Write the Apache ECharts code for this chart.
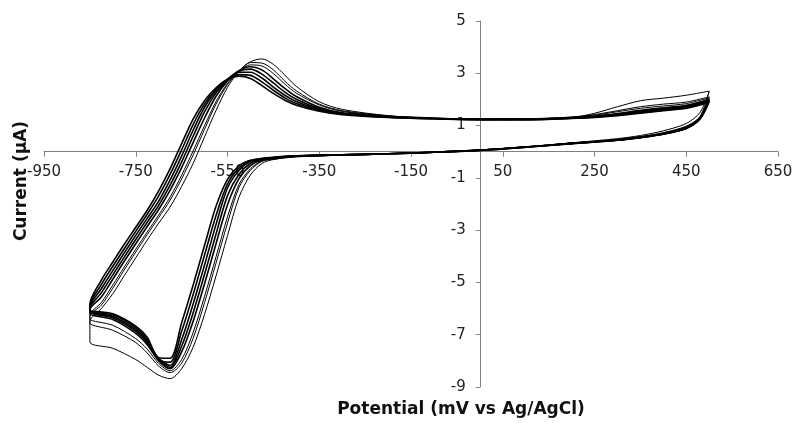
<!DOCTYPE html>
<html>
<head>
<meta charset="utf-8">
<title>Cyclic voltammogram</title>
<script src="https://cdn.jsdelivr.net/npm/echarts@6.0.0/dist/echarts.min.js"></script>
<style>
  html, body { margin: 0; padding: 0; background: #fff; }
  #chart { width: 796px; height: 423px; }
</style>
</head>
<body>
<div id="chart"></div>
<script>
// potential steps (mV vs Ag/AgCl): cathodic sweep 500 -> -850, then anodic sweep -850 -> 500
const potentialsDown = [500, 480, 450, 400, 350, 300, 200, 100, 0, -100, -200, -300, -400, -450, -475, -500,
  -525, -550, -575, -600, -625, -650, -675, -700, -725, -750, -800, -850]
const potentialsUp = [-850, -825, -800, -775, -750, -725, -700, -675, -650, -625, -600, -575, -550, -525, -500,
  -475, -450, -425, -400, -350, -300, -200, -100, 0, 100, 200, 250, 300, 350, 400, 450, 500]

// current (uA), one pair of sweeps per cycle
const cycle1Down = [2.3, 1.5, 1.08, 0.8, 0.62, 0.5, 0.34, 0.19, 0.06, -0.02, -0.08, -0.13, -0.2, -0.3, -0.45, -0.89,
  -1.74, -3.21, -4.75, -6.22, -7.48, -8.3, -8.68, -8.55, -8.25, -7.95, -7.52, -7.28]
const cycle1Up = [-6.5, -6.0, -5.43, -4.74, -4.06, -3.38, -2.73, -2.11, -1.33, -0.45, 0.57, 1.58, 2.46, 3.08, 3.44,
  3.55, 3.34, 2.93, 2.5, 1.91, 1.62, 1.38, 1.27, 1.2, 1.2, 1.3, 1.47, 1.72, 1.95, 2.05, 2.16, 2.32]

const cycle2Down = [2.32, 1.35, 0.98, 0.73, 0.58, 0.47, 0.33, 0.18, 0.06, -0.02, -0.08, -0.12, -0.18, -0.29, -0.37, -0.71,
  -1.37, -2.73, -4.26, -5.77, -7.14, -8.09, -8.45, -8.2, -7.7, -7.3, -6.83, -6.55]
const cycle2Up = [-6.3, -5.87, -5.22, -4.52, -3.84, -3.17, -2.52, -1.85, -1.04, -0.13, 0.86, 1.82, 2.57, 3.09, 3.41,
  3.39, 3.13, 2.7, 2.33, 1.82, 1.57, 1.37, 1.28, 1.23, 1.24, 1.33, 1.42, 1.57, 1.72, 1.82, 1.9, 2.1]

const cycle3Down = [2.1, 1.32, 0.95, 0.71, 0.57, 0.46, 0.33, 0.18, 0.06, -0.02, -0.08, -0.12, -0.18, -0.27, -0.35, -0.65,
  -1.25, -2.49, -4.02, -5.53, -6.92, -7.95, -8.38, -8.1, -7.55, -7.15, -6.64, -6.4]
const cycle3Up = [-6.25, -5.77, -5.1, -4.41, -3.73, -3.07, -2.42, -1.73, -0.9, 0.03, 1.0, 1.92, 2.61, 3.08, 3.32,
  3.28, 2.99, 2.59, 2.24, 1.79, 1.54, 1.36, 1.28, 1.24, 1.25, 1.32, 1.4, 1.53, 1.66, 1.75, 1.84, 2.06]

const cycle4Down = [2.06, 1.3, 0.93, 0.7, 0.56, 0.46, 0.32, 0.18, 0.06, -0.02, -0.08, -0.12, -0.17, -0.25, -0.32, -0.53,
  -1.03, -2.03, -3.52, -5.05, -6.49, -7.66, -8.3, -8.0, -7.38, -6.95, -6.42, -6.2]
const cycle4Up = [-6.05, -5.56, -4.88, -4.19, -3.52, -2.86, -2.21, -1.47, -0.61, 0.35, 1.29, 2.12, 2.71, 3.1, 3.25,
  3.13, 2.79, 2.42, 2.11, 1.7, 1.49, 1.35, 1.28, 1.24, 1.25, 1.3, 1.36, 1.46, 1.58, 1.68, 1.78, 2.0]

const cycle5Down = [2.0, 1.28, 0.91, 0.69, 0.55, 0.45, 0.32, 0.18, 0.06, -0.02, -0.08, -0.12, -0.17, -0.24, -0.3, -0.44,
  -0.86, -1.68, -3.15, -4.69, -6.17, -7.44, -8.25, -7.93, -7.3, -6.87, -6.35, -6.15]
const cycle5Up = [-6.0, -5.4, -4.71, -4.03, -3.36, -2.7, -2.05, -1.28, -0.39, 0.59, 1.52, 2.25, 2.76, 3.08, 3.16,
  2.97, 2.63, 2.28, 2.01, 1.65, 1.47, 1.34, 1.27, 1.24, 1.25, 1.29, 1.34, 1.44, 1.55, 1.65, 1.75, 1.98]

const cycle6Down = [1.98, 1.27, 0.9, 0.68, 0.55, 0.45, 0.32, 0.18, 0.06, -0.02, -0.08, -0.12, -0.17, -0.23, -0.28, -0.37,
  -0.72, -1.39, -2.78, -4.33, -5.83, -7.19, -8.18, -7.9, -7.25, -6.8, -6.3, -6.12]
const cycle6Up = [-5.95, -5.24, -4.55, -3.87, -3.2, -2.55, -1.89, -1.08, -0.17, 0.82, 1.7, 2.34, 2.77, 3.04, 3.04,
  2.82, 2.47, 2.16, 1.92, 1.61, 1.45, 1.33, 1.27, 1.24, 1.24, 1.28, 1.33, 1.42, 1.52, 1.62, 1.72, 1.95]

const cycle7Down = [1.95, 1.26, 0.9, 0.68, 0.54, 0.44, 0.31, 0.17, 0.05, -0.02, -0.08, -0.12, -0.16, -0.22, -0.27, -0.35,
  -0.63, -1.23, -2.44, -3.95, -5.47, -6.87, -8.05, -7.95, -7.18, -6.73, -6.25, -6.08]
const cycle7Up = [-5.9, -5.08, -4.38, -3.71, -3.04, -2.39, -1.69, -0.86, 0.07, 1.04, 1.83, 2.38, 2.76, 2.95, 2.92,
  2.67, 2.35, 2.06, 1.84, 1.58, 1.44, 1.32, 1.26, 1.24, 1.24, 1.28, 1.32, 1.4, 1.49, 1.59, 1.68, 1.91]

const cycle8Down = [1.91, 1.25, 0.89, 0.67, 0.54, 0.44, 0.31, 0.17, 0.05, -0.02, -0.08, -0.12, -0.16, -0.21, -0.25, -0.33,
  -0.54, -1.06, -2.09, -3.58, -5.11, -6.54, -7.9, -7.88, -7.1, -6.67, -6.2, -6.05]
const cycle8Up = [-5.85, -4.91, -4.22, -3.54, -2.89, -2.24, -1.5, -0.65, 0.31, 1.25, 1.95, 2.44, 2.77, 2.89, 2.8,
  2.53, 2.23, 1.97, 1.78, 1.55, 1.42, 1.31, 1.26, 1.23, 1.23, 1.27, 1.31, 1.38, 1.47, 1.57, 1.66, 1.88]

const cycles = [
  [cycle1Down, cycle1Up],
  [cycle2Down, cycle2Up],
  [cycle3Down, cycle3Up],
  [cycle4Down, cycle4Up],
  [cycle5Down, cycle5Up],
  [cycle6Down, cycle6Up],
  [cycle7Down, cycle7Up],
  [cycle8Down, cycle8Up]
]

const buildLoop = (down, up) => [
  ...potentialsDown.map((e, i) => [e, down[i]]),
  ...potentialsUp.map((e, i) => [e, up[i]])
]

const chart = echarts.init(document.getElementById('chart'))

const labelFont = { color: '#222', fontFamily: 'DejaVu Sans', fontSize: 15 }
const axisGrey = '#808080'
const titleFont = 'bold 17px "DejaVu Sans"'

// grid is 734 x 366; axes cross at (0 mV, 0 uA)
const gridLeft = 44
const gridTop = 21
const gridW = 734
const gridH = 366

chart.setOption({
  animation: false,
  grid: { left: gridLeft, top: gridTop, width: gridW, height: gridH },
  xAxis: {
    type: 'value',
    min: -950,
    max: 650,
    interval: 200,
    offset: -gridH * 9 / 14,
    axisLine: { onZero: false, lineStyle: { color: axisGrey, width: 1 } },
    axisTick: { show: true, length: 5, lineStyle: { color: axisGrey } },
    axisLabel: { ...labelFont, margin: 13 },
    splitLine: { show: false }
  },
  yAxis: {
    type: 'value',
    min: -9,
    max: 5,
    interval: 2,
    offset: -gridW * 950 / 1600,
    axisLine: { onZero: false, lineStyle: { color: axisGrey, width: 1 } },
    axisTick: { show: true, length: 4, lineStyle: { color: axisGrey } },
    axisLabel: { ...labelFont, margin: 14 },
    splitLine: { show: false }
  },
  graphic: [
    {
      type: 'text',
      x: 22,
      y: 181,
      rotation: Math.PI / 2,
      style: {
        text: 'Current (μA)',
        fill: '#111',
        font: titleFont,
        align: 'center',
        verticalAlign: 'middle'
      }
    },
    {
      type: 'text',
      x: 461,
      y: 410,
      style: {
        text: 'Potential (mV vs Ag/AgCl)',
        fill: '#111',
        font: titleFont,
        align: 'center',
        verticalAlign: 'middle'
      }
    }
  ],
  series: cycles.map(([down, up], idx) => ({
    name: 'cycle ' + (idx + 1),
    type: 'line',
    data: buildLoop(down, up),
    showSymbol: false,
    smooth: 0.3,
    lineStyle: { color: '#000', width: idx < 3 ? 1 : 1.6 },
    z: 3
  }))
})
</script>
</body>
</html>
